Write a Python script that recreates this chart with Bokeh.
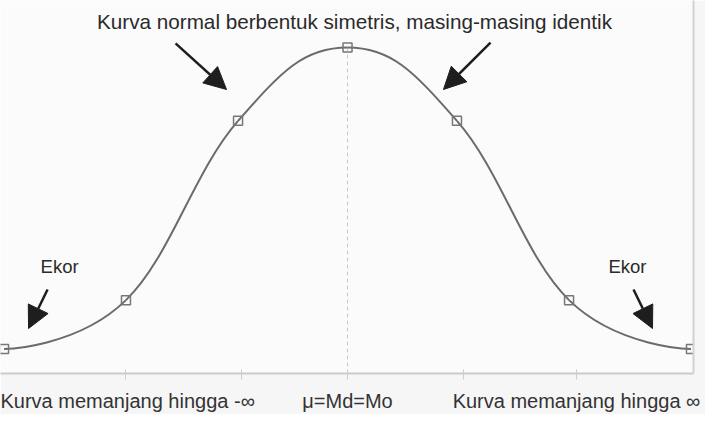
from bokeh.plotting import figure
from bokeh.models import (Range1d, FixedTicker, LinearAxis, Label, Arrow,
                          NormalHead, ColumnDataSource)
from bokeh.embed import file_html
from bokeh.resources import INLINE

# ---- data -------------------------------------------------------------
x_values = [-3.0, -1.935, -0.956, 0.0, 0.956, 1.935, 3.0]
y_values = [0.03, 0.09, 0.31, 0.40, 0.31, 0.09, 0.03]
tick_positions = [-1.94, -0.93, 0.0, 1.01, 2.0]
tick_labels = ["Kurva memanjang hingga -\u221e", "", "\u03bc=Md=Mo", "",
               "Kurva memanjang hingga \u221e"]
title_text = "Kurva normal berbentuk simetris, masing-masing identik"
tail_text = "Ekor"

FONT = "Liberation Sans"

# ---- spline (Highcharts-like) control points --------------------------
def spline_segments(xs, ys, smoothing=1.5):
    n = len(xs)
    denom = smoothing + 1
    left = [(xs[i], ys[i]) for i in range(n)]
    right = [(xs[i], ys[i]) for i in range(n)]
    for i in range(1, n - 1):
        px, py = xs[i], ys[i]
        lx, ly = xs[i - 1], ys[i - 1]
        nx, ny = xs[i + 1], ys[i + 1]
        lcx = (smoothing * px + lx) / denom
        lcy = (smoothing * py + ly) / denom
        rcx = (smoothing * px + nx) / denom
        rcy = (smoothing * py + ny) / denom
        if rcx != lcx:
            corr = ((rcy - lcy) * (rcx - px)) / (rcx - lcx) + py - rcy
            lcy += corr
            rcy += corr
        if lcy > max(ly, py):
            lcy = max(ly, py); rcy = 2 * py - lcy
        elif lcy < min(ly, py):
            lcy = min(ly, py); rcy = 2 * py - lcy
        if rcy > max(py, ny):
            rcy = max(py, ny); lcy = 2 * py - rcy
        elif rcy < min(py, ny):
            rcy = min(py, ny); lcy = 2 * py - rcy
        left[i] = (lcx, lcy)
        right[i] = (rcx, rcy)
    seg = dict(x0=[], y0=[], x1=[], y1=[], cx0=[], cy0=[], cx1=[], cy1=[])
    for i in range(1, n):
        seg["x0"].append(xs[i - 1]); seg["y0"].append(ys[i - 1])
        seg["x1"].append(xs[i]); seg["y1"].append(ys[i])
        seg["cx0"].append(right[i - 1][0]); seg["cy0"].append(right[i - 1][1])
        seg["cx1"].append(left[i][0]); seg["cy1"].append(left[i][1])
    return seg

# ---- figure -----------------------------------------------------------
p = figure(frame_width=693, frame_height=373, output_backend="svg",
           toolbar_location=None,
           x_range=Range1d(-3.031, 3.022), y_range=Range1d(0, 0.4577),
           min_border_left=0, min_border_top=0, min_border_right=12,
           min_border_bottom=0)
p.background_fill_color = "#fbfbfb"
p.border_fill_color = "#f6f6f6"
p.outline_line_color = None
p.grid.visible = False
p.yaxis.visible = False

# bottom axis
ax = p.xaxis[0]
ax.ticker = FixedTicker(ticks=tick_positions)
ax.major_label_overrides = {t: l for t, l in zip(tick_positions, tick_labels)}
ax.major_label_text_font = FONT
ax.major_label_text_font_size = "20px"
ax.major_label_text_color = "#333333"
ax.major_label_standoff = 10
ax.axis_line_color = "#cccccc"
ax.axis_line_width = 2
ax.major_tick_line_color = "#cccccc"
ax.major_tick_line_width = 1
ax.major_tick_out = 6
ax.major_tick_in = 4
ax.minor_tick_line_color = None

# right border
rax = LinearAxis(ticker=FixedTicker(ticks=[]), axis_line_color="#d2d2d2",
                 axis_line_width=2, major_tick_line_color=None,
                 minor_tick_line_color=None, major_label_text_font_size="0px",
                 major_label_standoff=0, major_tick_out=0, major_tick_in=0)
p.add_layout(rax, "right")

# dashed mean line
peak = y_values.index(max(y_values))
p.segment(x0=[x_values[peak]], y0=[0], x1=[x_values[peak]], y1=[y_values[peak]],
          line_color="#c8c8c8", line_width=1, line_dash="4 3")

# smooth curve
seg = spline_segments(x_values, y_values)
p.bezier(source=ColumnDataSource(seg), x0="x0", y0="y0", x1="x1", y1="y1",
         cx0="cx0", cy0="cy0", cx1="cx1", cy1="cy1",
         line_color="#6b6b6b", line_width=2)

# markers
p.scatter(x_values, y_values, marker="square", size=9, fill_color=None,
          line_color="#777777", line_width=1.5)

# annotations
p.add_layout(Label(x=0.061, y=0.432, text=title_text, text_font=FONT,
                   text_font_size="20.7px", text_color="#2a2a2a",
                   text_align="center", text_baseline="middle"))
for lx in (-2.515, 2.445):
    p.add_layout(Label(x=lx, y=0.1313, text=tail_text, text_font=FONT,
                       text_font_size="18.5px", text_color="#2a2a2a",
                       text_align="center", text_baseline="middle"))

arrows = [(-1.502, 0.405, -1.057, 0.3485),
          (1.249, 0.406, 0.838, 0.3485),
          (-2.620, 0.1031, -2.786, 0.0552),
          (2.498, 0.1031, 2.664, 0.0552)]
for (xs_, ys_, xe_, ye_) in arrows:
    p.add_layout(Arrow(x_start=xs_, y_start=ys_, x_end=xe_, y_end=ye_,
                       line_color="#1e1e1e", line_width=2.5,
                       end=NormalHead(size=22, fill_color="#1e1e1e",
                                      line_color="#1e1e1e")))

open("out.html", "w").write(file_html(p, INLINE))
